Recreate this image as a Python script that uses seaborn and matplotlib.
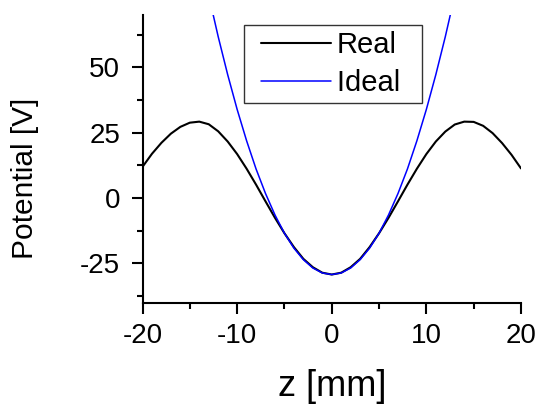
import numpy as np
import pandas as pd
import matplotlib
matplotlib.use("Agg")
import matplotlib.pyplot as plt
import seaborn as sns
from matplotlib.ticker import MultipleLocator
from matplotlib.lines import Line2D
from matplotlib.legend_handler import HandlerLine2D

# z positions [mm]
z_real = list(range(-20, 21))
# Real potential [V]
v_real = [11.9, 16.9, 21.1, 24.6, 27.2, 28.8, 29.2, 28.2, 25.5, 21.6, 16.8,
          11.2, 5.1, -1.3, -7.6, -13.5, -18.8, -23.3, -26.5, -28.6, -29.3,
          -28.6, -26.5, -23.3, -18.8, -13.5, -7.6, -1.3, 5.1, 11.2, 16.8,
          21.6, 25.4, 28.1, 29.2, 29.1, 27.6, 24.8, 21.0, 16.5, 11.3]

z_ideal = list(range(-13, 14))
# Ideal (harmonic) potential [V]
v_ideal = [77.5, 61.7, 47.2, 33.9, 21.9, 11.1, 1.7, -6.5, -13.5, -19.2, -23.6,
           -26.8, -28.7, -29.3, -28.7, -26.8, -23.6, -19.2, -13.5, -6.5, 1.7,
           11.1, 21.9, 33.9, 47.2, 61.7, 77.5]

x_ticks = [-20, -10, 0, 10, 20]
y_ticks = [-25, 0, 25, 50]

df = pd.concat([
    pd.DataFrame({"z": z_real, "V": v_real, "series": "Real"}),
    pd.DataFrame({"z": z_ideal, "V": v_ideal, "series": "Ideal"}),
], ignore_index=True)

sns.set_style("ticks")
plt.rcParams["font.family"] = ["Liberation Sans", "DejaVu Sans"]
plt.rcParams["text.color"] = "black"
plt.rcParams["axes.labelcolor"] = "black"
plt.rcParams["xtick.color"] = "black"
plt.rcParams["ytick.color"] = "black"

fig = plt.figure(figsize=(5.37, 4.07), dpi=100)
ax = fig.add_axes([142.5 / 537, 1 - 302.5 / 407, 378.5 / 537, 287.5 / 407])

sns.lineplot(data=df, x="z", y="V", hue="series",
             palette={"Real": "black", "Ideal": "#0000ff"},
             size="series", sizes={"Real": 1.5, "Ideal": 1.1},
             ax=ax, legend=False)

ax.set_xlim(-20, 20)
ax.set_ylim(-40, 70)
ax.set_xticks(x_ticks)
ax.set_xticklabels([str(t) for t in x_ticks])
ax.set_yticks(y_ticks)
ax.set_yticklabels([str(t) for t in y_ticks])
ax.xaxis.set_minor_locator(MultipleLocator(5))
ax.yaxis.set_minor_locator(MultipleLocator(12.5))

for s in ["top", "right"]:
    ax.spines[s].set_visible(False)
for s in ["left", "bottom"]:
    ax.spines[s].set_linewidth(1.5)
    ax.spines[s].set_color("black")

ax.tick_params(which="major", direction="out", length=8, width=1.5,
               labelsize=20, colors="black", labelcolor="black")
ax.tick_params(which="minor", direction="out", length=4.3, width=1.5, colors="black")
ax.tick_params(axis="x", which="major", pad=6.5)
ax.tick_params(axis="y", which="major", pad=8)

ax.set_xlabel("z [mm]", fontsize=26, labelpad=14.5, color="black")
ax.set_ylabel("Potential [V]", fontsize=21.5, color="black")
ax.yaxis.set_label_coords(-0.273, 0.433)

handles = [Line2D([], [], color="black", lw=1.5),
           Line2D([], [], color="#0000ff", lw=1.1)]
hmap = {h: HandlerLine2D(xpad=0.38) for h in handles}
leg = ax.legend(handles, ["Real", "Ideal  "], loc="upper left",
                bbox_to_anchor=(0.268, 0.965), borderaxespad=0,
                fontsize=21, handlelength=2.78, handletextpad=0.2,
                labelspacing=0.36, borderpad=0.2, fancybox=False,
                framealpha=1, edgecolor="#333333", handler_map=hmap)
leg.get_frame().set_linewidth(1.0)
for t in leg.get_texts():
    t.set_color("black")

fig.savefig("out.png", dpi=100)
